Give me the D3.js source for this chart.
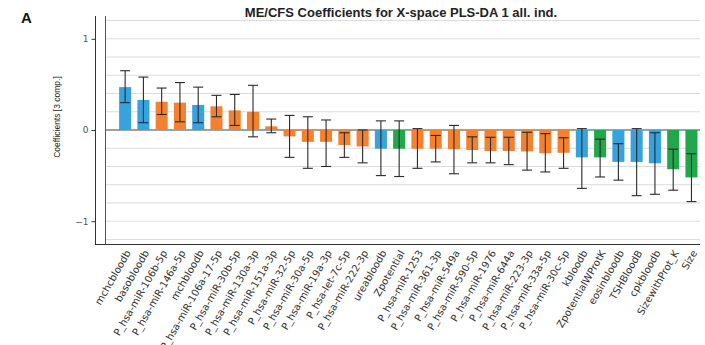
<!DOCTYPE html>
<html>
<head>
<meta charset="utf-8">
<script src="https://cdn.jsdelivr.net/npm/d3@7"></script>
<style>
  body { margin: 0; background: #fff; }
  svg { display: block; }
</style>
</head>
<body>
<svg id="chart" width="705" height="345"></svg>
<script>
/* data */
const categories = [
  "mchcbloodb", "basobloodb", "P_hsa-miR-106b-5p", "P_hsa-miR-146a-5p", "mchbloodb",
  "P_hsa-miR-106a-17-5p", "P_hsa-miR-30b-5p", "P_hsa-miR-130a-3p", "P_hsa-miR-151a-3p",
  "P_hsa-miR-32-5p", "P_hsa-miR-30a-5p", "P_hsa-miR-19a-3p", "P_hsa-let-7c-5p",
  "P_hsa-miR-222-3p", "ureabloodb", "Zpotential", "P_hsa-miR-1253", "P_hsa-miR-361-3p",
  "P_hsa-miR-549a", "P_hsa-miR-590-5p", "P_hsa-miR-1976", "P_hsa-miR-644a",
  "P_hsa-miR-223-3p", "P_hsa-miR-33a-5p", "P_hsa-miR-30c-5p", "kbloodb",
  "ZpotentialWProtK", "eosinbloodb", "TSHBloodB", "cpkbloodb", "SizewithProt_K", "Size"
];
// group: b = blood, m = miRNA, z = zeta/size
const groups = [
  "b", "b", "m", "m", "b", "m", "m", "m", "m", "m", "m", "m", "m", "m", "b", "z",
  "m", "m", "m", "m", "m", "m", "m", "m", "m", "b", "z", "b", "b", "b", "z", "z"
];
const coefficients = [
  0.47, 0.33, 0.31, 0.30, 0.275, 0.26, 0.215, 0.20, 0.04, -0.07, -0.13, -0.13, -0.165,
  -0.18, -0.205, -0.205, -0.205, -0.205, -0.21, -0.22, -0.23, -0.23, -0.235, -0.255,
  -0.25, -0.30, -0.30, -0.35, -0.35, -0.365, -0.43, -0.52
];
const errUpper = [
  0.65, 0.58, 0.46, 0.52, 0.47, 0.38, 0.39, 0.49, 0.12, 0.16, 0.145, 0.11, -0.03,
  0.0, 0.10, 0.10, 0.015, -0.06, 0.05, -0.075, -0.08, -0.08, -0.025, -0.04,
  -0.085, 0.015, -0.10, -0.15, 0.015, -0.03, -0.21, -0.26
];
const errLower = [
  0.30, 0.08, 0.17, 0.09, 0.08, 0.145, 0.05, -0.075, -0.03, -0.30, -0.42, -0.40, -0.30,
  -0.36, -0.50, -0.51, -0.42, -0.35, -0.48, -0.36, -0.36, -0.38, -0.44, -0.46,
  -0.42, -0.64, -0.515, -0.55, -0.72, -0.705, -0.66, -0.785
];
const yTicks = [-1, 0, 1];
const gridValues = d3.range(-12, 13, 2).map(v => v / 10);

const colorOf = { b: "#36a3df", m: "#f4812f", z: "#22a84a" };

const svg = d3.select("#chart");
const plot = { left: 105, right: 700, top: 16, bottom: 244 };

const x = d3.scaleBand()
  .domain(categories)
  .range([116, 700.6])
  .paddingInner(0.34)
  .paddingOuter(0.17);

const y = d3.scaleLinear()
  .domain([-1.25, 1.25])
  .range([plot.bottom, plot.top]);

/* grid */
svg.append("g")
  .selectAll("line")
  .data(gridValues)
  .join("line")
  .attr("x1", plot.left).attr("x2", plot.right)
  .attr("y1", d => y(d)).attr("y2", d => y(d))
  .attr("stroke", d => d === 0 ? "#444" : "#dcdcdc")
  .attr("stroke-width", d => d === 0 ? 1.2 : 1);

/* bars */
const data = categories.map((c, i) => ({
  name: c, g: groups[i], v: coefficients[i], hi: errUpper[i], lo: errLower[i]
}));

svg.append("g")
  .selectAll("rect")
  .data(data)
  .join("rect")
  .attr("x", d => x(d.name))
  .attr("width", x.bandwidth())
  .attr("y", d => y(Math.max(0, d.v)))
  .attr("height", d => Math.abs(y(d.v) - y(0)))
  .attr("fill", d => colorOf[d.g]);

/* error bars */
const err = svg.append("g")
  .attr("stroke", "#2a2a2a")
  .attr("stroke-width", 1.1);
const cap = 5;
data.forEach(d => {
  const cx = x(d.name) + x.bandwidth() / 2;
  err.append("line").attr("x1", cx).attr("x2", cx).attr("y1", y(d.hi)).attr("y2", y(d.lo));
  err.append("line").attr("x1", cx - cap).attr("x2", cx + cap).attr("y1", y(d.hi)).attr("y2", y(d.hi));
  err.append("line").attr("x1", cx - cap).attr("x2", cx + cap).attr("y1", y(d.lo)).attr("y2", y(d.lo));
});

/* axes frame */
svg.append("line")
  .attr("x1", 95.5).attr("x2", 95.5).attr("y1", plot.top).attr("y2", plot.bottom + 0.5)
  .attr("stroke", "#333");
svg.append("line")
  .attr("x1", plot.left + 0.5).attr("x2", plot.left + 0.5).attr("y1", plot.top).attr("y2", plot.bottom)
  .attr("stroke", "#555");
svg.append("line")
  .attr("x1", 95).attr("x2", plot.right).attr("y1", plot.bottom + 0.5).attr("y2", plot.bottom + 0.5)
  .attr("stroke", "#333");

/* y axis */
const yAxis = svg.append("g")
  .attr("transform", "translate(95.5,0)")
  .call(d3.axisLeft(y).tickValues(yTicks).tickSize(4).tickFormat(d3.format("d")));
yAxis.select(".domain").remove();
yAxis.selectAll("line").attr("stroke", "#333");
yAxis.selectAll("text")
  .attr("fill", "#555")
  .attr("font-family", "DejaVu Sans, sans-serif")
  .attr("font-size", 9);

/* x labels */
svg.append("g")
  .selectAll("text")
  .data(categories)
  .join("text")
  .attr("transform", d => `translate(${x(d) + x.bandwidth() / 2 + 3},${plot.bottom + 7}) rotate(-60)`)
  .attr("text-anchor", "end")
  .attr("dy", "0.35em")
  .attr("font-family", "DejaVu Sans, sans-serif")
  .attr("font-size", 10)
  .attr("fill", "#333")
  .text(d => d);

/* y axis label */
svg.append("text")
  .attr("transform", "translate(60,117) rotate(-90)")
  .attr("text-anchor", "middle")
  .attr("font-family", "Liberation Sans, Arial, sans-serif")
  .attr("font-size", 8.5)
  .attr("fill", "#222")
  .text("Coefficients [3 comp.]");

/* title */
svg.append("text")
  .attr("x", 401).attr("y", 17)
  .attr("text-anchor", "middle")
  .attr("font-family", "Liberation Sans, Arial, sans-serif")
  .attr("font-weight", "bold")
  .attr("font-size", 13)
  .attr("fill", "#222")
  .text("ME/CFS Coefficients for X-space PLS-DA 1 all. ind.");

svg.append("text")
  .attr("x", 21).attr("y", 23)
  .attr("font-family", "Liberation Sans, Arial, sans-serif")
  .attr("font-weight", "bold")
  .attr("font-size", 15)
  .attr("fill", "#111")
  .text("A");
</script>
</body>
</html>
